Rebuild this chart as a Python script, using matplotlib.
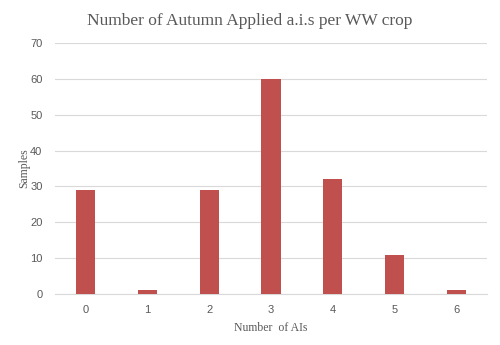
import matplotlib
matplotlib.use('Agg')
import matplotlib.pyplot as plt

categories = ['0', '1', '2', '3', '4', '5', '6']
samples = [29, 1, 29, 60, 32, 11, 1]

text_col = '#595959'

fig = plt.figure(figsize=(5, 3.45), dpi=100)
ax = fig.add_axes([0.11, 0.148, 0.864, 0.727])

ax.bar(range(len(categories)), samples, width=0.31, color='#C0504D', zorder=3)

ax.set_xlim(-0.5, len(categories) - 0.5)
ax.set_ylim(0, 70)
ax.set_yticks(range(0, 71, 10))
ax.set_xticks(range(len(categories)))
ax.set_xticklabels(categories)
ax.grid(axis='y', color='#d9d9d9', linewidth=0.8, zorder=0)

for side in ['top', 'right', 'left']:
    ax.spines[side].set_visible(False)
ax.spines['bottom'].set_color('#d9d9d9')
ax.tick_params(length=0, labelsize=8, colors=text_col)
ax.tick_params(axis='x', pad=8)
ax.tick_params(axis='y', pad=9)
for lbl in ax.get_xticklabels() + ax.get_yticklabels():
    lbl.set_family('Liberation Sans')

ax.set_xlabel('Number  of AIs', family='Liberation Serif', fontsize=8.5, color=text_col, labelpad=5)
ax.set_ylabel('Samples', family='Liberation Serif', fontsize=8.5, color=text_col, labelpad=0)
fig.text(0.5, 0.94, 'Number of Autumn Applied a.i.s per WW crop', ha='center', va='center',
         family='Liberation Serif', fontsize=12.5, color=text_col)

fig.savefig('out.png', dpi=100)
